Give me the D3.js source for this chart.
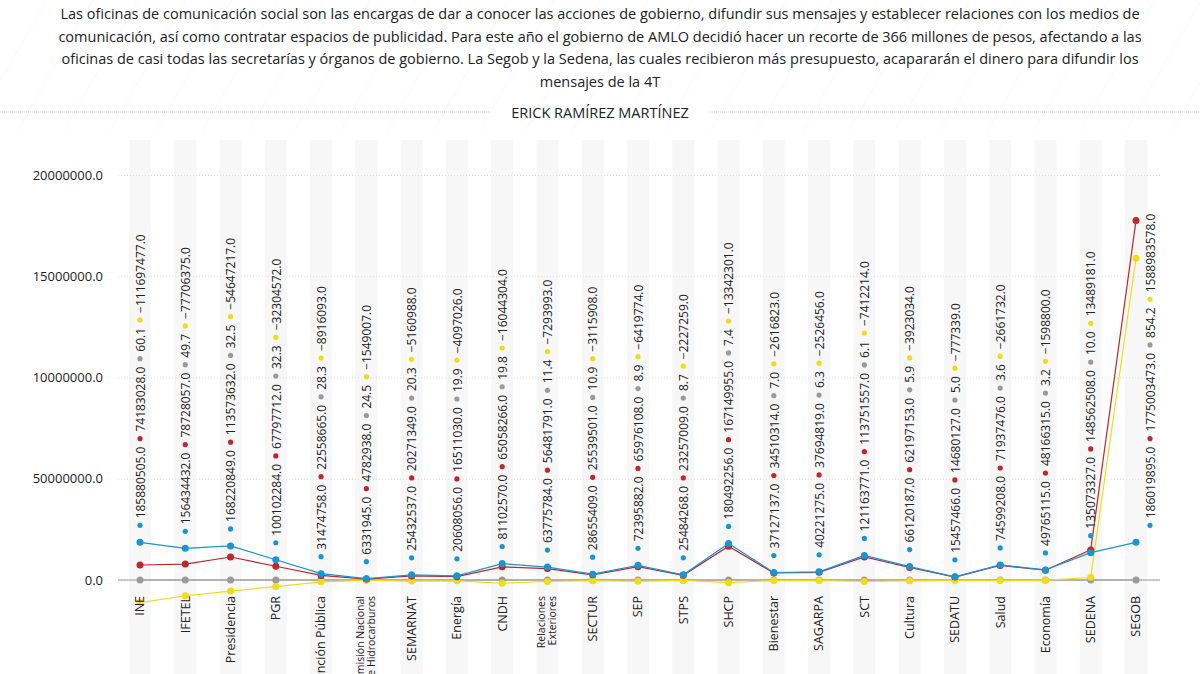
<!DOCTYPE html>
<html>
<head>
<meta charset="utf-8">
<script src="https://cdn.jsdelivr.net/npm/d3@7"></script>
<style>
  body { margin: 0; background: #fff; }
  svg { font-family: "Open Sans", sans-serif; }
</style>
</head>
<body>
<svg id="chart" width="1200" height="674"></svg>
<script>
// data
var categories = ["INE", "IFETEL", "Presidencia", "PGR", "Función Pública", "Comisión Nacional|de Hidrocarburos",
  "SEMARNAT", "Energía", "CNDH", "Relaciones|Exteriores", "SECTUR", "SEP", "STPS", "SHCP", "Bienestar",
  "SAGARPA", "SCT", "Cultura", "SEDATU", "Salud", "Economía", "SEDENA", "SEGOB"];
var blueValues = [18588050.5, 15643443.2, 16822084.9, 10010228.4, 3147475.8, 633194.5, 2543253.7, 2060805.6,
  8110257.0, 6377578.4, 2865540.9, 7239588.2, 2548426.8, 18049225.6, 3712713.7, 4022127.5, 12116377.1,
  6612018.7, 1545746.6, 7459920.8, 4976511.5, 13507332.7, 18601989.5];
var redValues = [7418302.8, 7872805.7, 11357363.2, 6779771.2, 2255866.5, 478293.8, 2027134.9, 1651103.0,
  6505826.6, 5648179.1, 2553950.1, 6597610.8, 2325700.9, 16714995.5, 3451031.4, 3769481.9, 11375155.7,
  6219715.3, 1468012.7, 7193747.6, 4816631.5, 14856250.8, 177500347.3];
var greyValues = [60.1, 49.7, 32.5, 32.3, 28.3, 24.5, 20.3, 19.9, 19.8, 11.4, 10.9, 8.9, 8.7, 7.4, 7.0, 6.3,
  6.1, 5.9, 5.0, 3.6, 3.2, 10.0, 854.2];
var yellowValues = [-11169747.7, -7770637.5, -5464721.7, -3230457.2, -891609.3, -154900.7, -516098.8, -409702.6,
  -1604430.4, -729399.3, -311590.8, -641977.4, -222725.9, -1334230.1, -261682.3, -252645.6, -741221.4,
  -392303.4, -77733.9, -266173.2, -159880.0, 1348918.1, 158898357.8];
var yTicks = [0, 50000000, 100000000, 150000000, 200000000];
var yTickLabels = ["0.0", "50000000.0", "10000000.0", "15000000.0", "20000000.0"];

var BLUE = "#1b95d2", RED = "#c0262c", GREY = "#9a9a9a", YELLOW = "#f2dc17";
var series = [
  { values: blueValues, color: BLUE, fmt: function(v) { return (v * 10).toFixed(1); } },
  { values: redValues, color: RED, fmt: function(v) { return (v * 10).toFixed(1); } },
  { values: greyValues, color: GREY, fmt: function(v) { return v.toFixed(1); } },
  { values: yellowValues, color: YELLOW, fmt: function(v) { return (v * 10).toFixed(1).replace("-", "−"); } }
];

var svg = d3.select("#chart");

// faint diagonal hatching behind the header
var pat = svg.append("defs").append("pattern")
  .attr("id", "hatch").attr("width", 40).attr("height", 40)
  .attr("patternUnits", "userSpaceOnUse").attr("patternTransform", "rotate(30)");
pat.append("line").attr("x1", 0).attr("y1", 0).attr("x2", 0).attr("y2", 40)
  .attr("stroke", "#f4f4f4").attr("stroke-width", 1);
svg.append("rect").attr("width", 1200).attr("height", 130).attr("fill", "url(#hatch)");

// header text
var intro = ["Las oficinas de comunicación social son las encargas de dar a conocer las acciones de gobierno, difundir sus mensajes y establecer relaciones con los medios de",
  "comunicación, así como contratar espacios de publicidad. Para este año el gobierno de AMLO decidió hacer un recorte de 366 millones de pesos, afectando a las",
  "oficinas de casi todas las secretarías y órganos de gobierno. La Segob y la Sedena, las cuales recibieron más presupuesto, acapararán el dinero para difundir los",
  "mensajes de la 4T"];
svg.append("g").selectAll("text").data(intro).join("text")
  .attr("x", 600).attr("y", function(d, i) { return 19 + i * 22.5; })
  .attr("text-anchor", "middle")
  .style("font-size", "14.5px").attr("fill", "#222").text(function(d) { return d; });

svg.append("line").attr("x1", 0).attr("x2", 490).attr("y1", 112).attr("y2", 112)
  .attr("stroke", "#ccc").attr("stroke-dasharray", "1,1");
svg.append("line").attr("x1", 710).attr("x2", 1200).attr("y1", 112).attr("y2", 112)
  .attr("stroke", "#ccc").attr("stroke-dasharray", "1,1");
svg.append("text").attr("x", 600).attr("y", 118).attr("text-anchor", "middle")
  .style("font-size", "14.5px").attr("fill", "#222").text("ERICK RAMÍREZ MARTÍNEZ");

// scales
var x = d3.scalePoint().domain(d3.range(categories.length)).range([140, 1136]);
var y = d3.scaleLinear().domain([0, 200000000]).range([580, 175]);

// column bands
svg.append("g").selectAll("rect").data(categories).join("rect")
  .attr("x", function(d, i) { return x(i) - 11; }).attr("width", 22)
  .attr("y", 140).attr("height", 534).attr("fill", "#f7f7f7");

// grid + y axis
var yAxis = d3.axisLeft(y).tickValues(yTicks)
  .tickFormat(function(d, i) { return yTickLabels[i]; }).tickSize(-1042);
var ga = svg.append("g").attr("transform", "translate(118,0)").call(yAxis);
ga.select(".domain").remove();
ga.selectAll(".tick line").attr("stroke", "#ddd").attr("stroke-dasharray", "1,2");
ga.selectAll(".tick text").attr("x", -15).attr("fill", "#222").style("font-size", "13px")
  .style("font-family", "'Open Sans', sans-serif");
svg.append("line").attr("x1", 118).attr("x2", 1160).attr("y1", y(0)).attr("y2", y(0))
  .attr("stroke", "#999").attr("stroke-width", 1);

// lines and points
var line = d3.line().x(function(d, i) { return x(i); }).y(function(d) { return y(d); });
[series[2], series[3], series[1], series[0]].forEach(function(s) {
  svg.append("path").datum(s.values).attr("d", line)
    .attr("fill", "none").attr("stroke", s.color).attr("stroke-width", 1.2);
  svg.append("g").selectAll("circle").data(s.values).join("circle")
    .attr("cx", function(d, i) { return x(i); }).attr("cy", function(d) { return y(d); })
    .attr("r", 3.5).attr("fill", s.color);
});

// stacked rotated labels per column
categories.forEach(function(c, i) {
  var cx = x(i) + (i === categories.length - 1 ? 14 : 0);
  var pos = y(blueValues[i]) - 17;
  series.forEach(function(s) {
    svg.append("circle").attr("cx", cx).attr("cy", pos).attr("r", 2.6).attr("fill", s.color);
    pos -= 7;
    var t = svg.append("text")
      .attr("transform", "translate(" + (cx + 0.5) + "," + pos + ") rotate(-90)")
      .attr("dy", "0.35em").style("font-size", "12px").attr("fill", "#222")
      .text(s.fmt(s.values[i]));
    pos -= t.node().getComputedTextLength() + 8;
  });
});

// category labels, rotated, reading upward from below the chart
categories.forEach(function(c, i) {
  var parts = c.split("|");
  parts.forEach(function(p, j) {
    var off = parts.length > 1 ? (j === 0 ? -6 : 5) : 0;
    svg.append("text")
      .attr("transform", "translate(" + (x(i) + off) + ",596) rotate(-90)")
      .attr("dy", "0.35em").attr("text-anchor", "end")
      .style("font-size", parts.length > 1 ? "10.5px" : "12.5px").attr("fill", "#222")
      .text(p);
  });
});
</script>
</body>
</html>
